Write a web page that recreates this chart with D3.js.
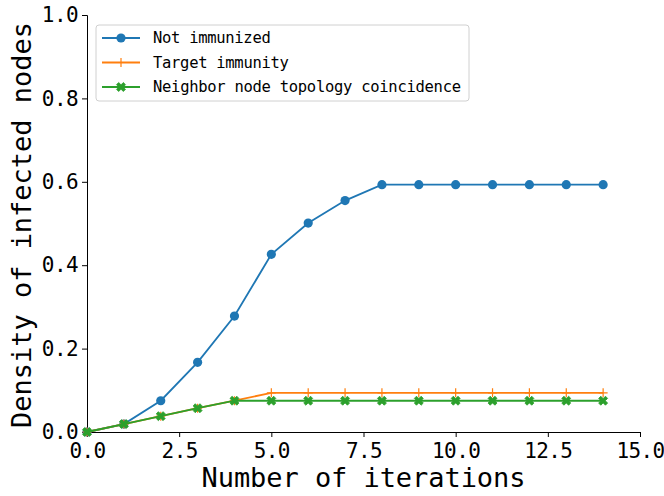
<!DOCTYPE html>
<html>
<head>
<meta charset="utf-8">
<script src="https://cdn.jsdelivr.net/npm/d3@7"></script>
<style>
  body { margin: 0; background: #fff; }
  svg { display: block; }
</style>
</head>
<body>
<script>
const iterations = [0, 1, 2, 3, 4, 5, 6, 7, 8, 9, 10, 11, 12, 13, 14];
const notImmunized = [0, 0.019, 0.075, 0.167, 0.278, 0.426, 0.501, 0.555, 0.593, 0.593, 0.593, 0.593, 0.593, 0.593, 0.593];
const targetImmunity = [0, 0.019, 0.038, 0.057, 0.075, 0.094, 0.094, 0.094, 0.094, 0.094, 0.094, 0.094, 0.094, 0.094, 0.094];
const neighborTopology = [0, 0.019, 0.038, 0.057, 0.075, 0.075, 0.075, 0.075, 0.075, 0.075, 0.075, 0.075, 0.075, 0.075, 0.075];
const xTicks = [0, 2.5, 5, 7.5, 10, 12.5, 15];
const yTicks = [0, 0.2, 0.4, 0.6, 0.8, 1.0];

const series = [
  { name: "Not immunized", values: notImmunized, color: "#1f77b4", marker: "circle" },
  { name: "Target immunity", values: targetImmunity, color: "#ff7f0e", marker: "plus" },
  { name: "Neighbor node topology coincidence", values: neighborTopology, color: "#2ca02c", marker: "x" },
];

const width = 664;
const height = 496;
const margin = { top: 15, right: 24, bottom: 64, left: 87 };
const font = "'DejaVu Sans Mono', monospace";

const svg = d3.select("body").append("svg").attr("width", width).attr("height", height);

const x = d3.scaleLinear().domain([0, 15]).range([margin.left, width - margin.right]);
const y = d3.scaleLinear().domain([0, 1]).range([height - margin.bottom, margin.top]);

// filled X marker, like matplotlib 'X'
function xPath(s) {
  const a = s * 0.24, b = s * 0.5;
  const pts = [
    [0, -a], [b - a, -b], [b, -b + a], [a, 0], [b, b - a], [b - a, b],
    [0, a], [-b + a, b], [-b, b - a], [-a, 0], [-b, -b + a], [-b + a, -b],
  ];
  return "M" + pts.map((p) => p.join(",")).join("L") + "Z";
}

function drawMarker(g, kind, color) {
  if (kind === "circle") {
    g.append("circle").attr("r", 4.6).attr("fill", color);
  } else if (kind === "plus") {
    g.append("path").attr("d", "M-4.5,0H4.5M0,-4.5V4.5")
      .attr("stroke", color).attr("stroke-width", 1.2).attr("fill", "none");
  } else {
    g.append("path").attr("d", xPath(9)).attr("fill", color)
      .attr("stroke", color).attr("stroke-width", 0.8).attr("stroke-linejoin", "round");
  }
}

// axes
const xAxis = svg.append("g")
  .attr("transform", `translate(0,${y(0)})`)
  .call(d3.axisBottom(x).tickValues(xTicks).tickFormat(d3.format(".1f")).tickSize(5).tickPadding(4));
const yAxis = svg.append("g")
  .attr("transform", `translate(${x(0)},0)`)
  .call(d3.axisLeft(y).tickValues(yTicks).tickFormat(d3.format(".1f")).tickSize(5).tickPadding(4));

[xAxis, yAxis].forEach((ax) => {
  ax.select(".domain").attr("stroke", "#000").attr("stroke-width", 1);
  ax.selectAll(".tick line").attr("stroke", "#000").attr("stroke-width", 1);
  ax.selectAll(".tick text")
    .attr("font-family", font)
    .attr("font-size", 21)
    .attr("letter-spacing", -0.6)
    .attr("fill", "#000");
});
xAxis.selectAll(".tick text").attr("dy", "0.8em");

// lines
const line = d3.line().x((d, i) => x(iterations[i])).y((d) => y(d));

series.forEach((s) => {
  const g = svg.append("g");
  g.append("path")
    .datum(s.values)
    .attr("d", line)
    .attr("fill", "none")
    .attr("stroke", s.color)
    .attr("stroke-width", 1.8);
  g.selectAll("g.m")
    .data(s.values)
    .join("g")
    .attr("class", "m")
    .attr("transform", (d, i) => `translate(${x(iterations[i])},${y(d)})`)
    .each(function () { drawMarker(d3.select(this), s.marker, s.color); });
});

// axis labels
svg.append("text")
  .attr("x", (x(0) + x(15)) / 2)
  .attr("y", 487)
  .attr("text-anchor", "middle")
  .attr("font-family", font)
  .attr("font-size", 27)
  .attr("textLength", 324)
  .text("Number of iterations");

svg.append("text")
  .attr("transform", `translate(31,${225}) rotate(-90)`)
  .attr("text-anchor", "middle")
  .attr("font-family", font)
  .attr("font-size", 27)
  .attr("textLength", 406)
  .text("Density of infected nodes");

// legend
const legend = svg.append("g").attr("transform", "translate(96,25)");
legend.append("rect")
  .attr("width", 373)
  .attr("height", 76)
  .attr("rx", 3)
  .attr("fill", "#fff")
  .attr("fill-opacity", 0.8)
  .attr("stroke", "#d0d0d0")
  .attr("stroke-width", 1);

series.forEach((s, i) => {
  const row = legend.append("g").attr("transform", `translate(0,${13 + i * 24.5})`);
  row.append("line")
    .attr("x1", 6).attr("x2", 44)
    .attr("stroke", s.color).attr("stroke-width", 1.8);
  drawMarker(row.append("g").attr("transform", "translate(25,0)"), s.marker, s.color);
  row.append("text")
    .attr("x", 57)
    .attr("dy", "0.35em")
    .attr("font-family", font)
    .attr("font-size", 15.5)
    .attr("textLength", s.name.length * 9.06)
    .text(s.name);
});
</script>
</body>
</html>
